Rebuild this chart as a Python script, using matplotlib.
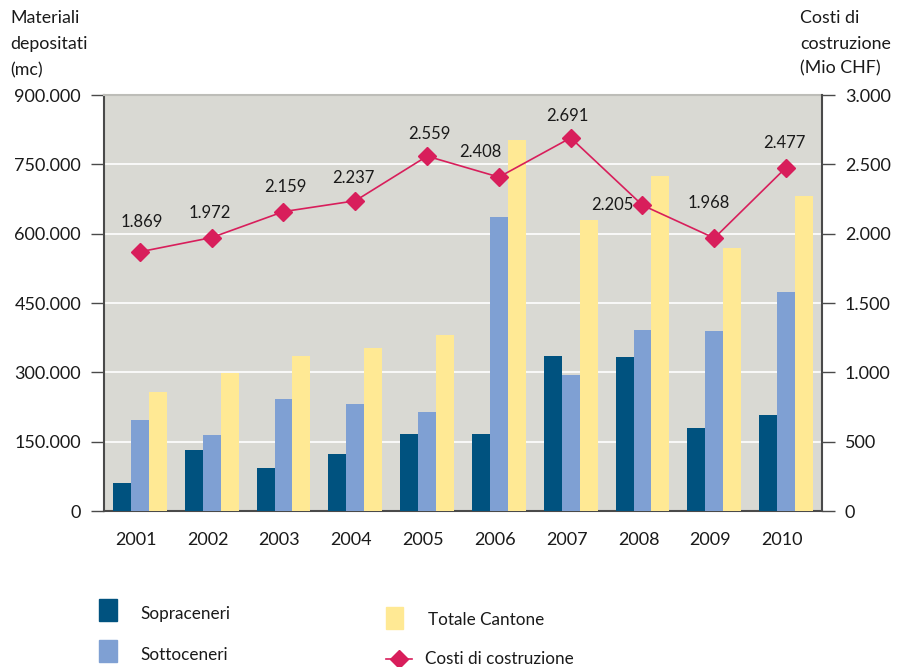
import matplotlib
matplotlib.use("Agg")
import matplotlib.pyplot as plt
import matplotlib.transforms as mtransforms
from matplotlib.patches import Rectangle
from matplotlib.lines import Line2D
import numpy as np

plt.rcParams['font.family'] = ['Lato', 'DejaVu Sans']

years = ["2001", "2002", "2003", "2004", "2005", "2006", "2007", "2008", "2009", "2010"]
sopraceneri = [60000, 132000, 94000, 123000, 167000, 167000, 336000, 333000, 179000, 208000]
sottoceneri = [197000, 165000, 242000, 231000, 214000, 637000, 294000, 392000, 389000, 474000]
totale = [257000, 298000, 336000, 353000, 381000, 803000, 630000, 724000, 569000, 681000]
costi = [1869, 1972, 2159, 2237, 2559, 2408, 2691, 2205, 1968, 2477]

left_ticks = [0, 150000, 300000, 450000, 600000, 750000, 900000]
left_labels = ["0", "150.000", "300.000", "450.000", "600.000", "750.000", "900.000"]
right_ticks = [0, 500, 1000, 1500, 2000, 2500, 3000]
right_labels = ["0", "500", "1.000", "1.500", "2.000", "2.500", "3.000"]

# label offsets in pixels (dx, dy) relative to marker
label_offsets = [(2, 30), (-2, 25), (2, 25), (-2, 23), (2, 22), (-19, 25), (-3, 22), (-30, 0), (-6, 35), (-2, 25)]

C_DARK = "#00527F"
C_LIGHT = "#7FA0D3"
C_YEL = "#FFE994"
C_LINE = "#D81E5B"
C_BG = "#D9D9D3"
C_SPINE = "#4A4A4A"
C_TXT = "#1A1A1A"

fig = plt.figure(figsize=(9.04, 6.67), dpi=100)
ax = fig.add_axes([104/904, 1-511/667, (822-104)/904, (511-95)/667])
ax.set_facecolor(C_BG)

x = np.arange(len(years))
w = 0.25
ax.bar(x - w, sopraceneri, w, color=C_DARK, zorder=3)
ax.bar(x, sottoceneri, w, color=C_LIGHT, zorder=3)
ax.bar(x + w, totale, w, color=C_YEL, zorder=3)

ax.set_xlim(-0.5, len(years) - 0.5)
ax.set_ylim(0, 900000)
ax.set_yticks(left_ticks)
ax.set_yticklabels(left_labels)
ax.yaxis.grid(True, color="white", lw=1.2, zorder=1)
ax.set_axisbelow(True)
ax.set_xticks(x)
ax.set_xticklabels(years)
ax.tick_params(axis='x', length=0, pad=15, labelsize=13, colors=C_TXT)
ax.tick_params(axis='y', length=9.5, width=1, pad=7, labelsize=13, colors=C_SPINE, labelcolor=C_TXT)
off = mtransforms.ScaledTranslation(-4/100, 0, fig.dpi_scale_trans)
for lab in ax.get_xticklabels():
    lab.set_transform(lab.get_transform() + off)

for s in ["left", "bottom"]:
    ax.spines[s].set_color(C_SPINE)
    ax.spines[s].set_linewidth(1.5)
ax.spines["top"].set_color("#BDBDB8")
ax.spines["top"].set_linewidth(1.5)
ax.spines["right"].set_visible(False)

ax2 = ax.twinx()
ax2.set_ylim(0, 3000)
ax2.set_yticks(right_ticks)
ax2.set_yticklabels(right_labels)
ax2.tick_params(axis='y', length=9.5, width=1, pad=7, labelsize=13, colors=C_SPINE, labelcolor=C_TXT)
for s in ["left", "top", "bottom"]:
    ax2.spines[s].set_visible(False)
ax2.spines["right"].set_color(C_SPINE)
ax2.spines["right"].set_linewidth(1.5)
ax2.plot(x, costi, color=C_LINE, lw=1.2, marker='D', markersize=9, zorder=5)

for xi, v, (dx, dy) in zip(x, costi, label_offsets):
    lbl = f"{v:,}".replace(",", ".")
    ax2.annotate(lbl, (xi, v), xytext=(dx * 0.72, dy * 0.72), textcoords="offset points",
                 ha="center", va="center", fontsize=12, color=C_TXT)

fig.text(10/904, 1-18/667, "Materiali", fontsize=12.8, color=C_TXT, va="center", ha="left")
fig.text(10/904, 1-44/667, "depositati", fontsize=12.8, color=C_TXT, va="center", ha="left")
fig.text(10/904, 1-70/667, "(mc)", fontsize=12.8, color=C_TXT, va="center", ha="left")
fig.text(800/904, 1-18/667, "Costi di", fontsize=12.8, color=C_TXT, va="center", ha="left")
fig.text(800/904, 1-44/667, "costruzione", fontsize=12.8, color=C_TXT, va="center", ha="left")
fig.text(800/904, 1-68/667, "(Mio CHF)", fontsize=12.8, color=C_TXT, va="center", ha="left")

# legend
def fx(px):
    return px / 904
def fy(py):
    return 1 - py / 667

fig.patches.append(Rectangle((fx(99), fy(621)), 18/904, 22/667, transform=fig.transFigure, color=C_DARK))
fig.patches.append(Rectangle((fx(99), fy(662)), 18/904, 22/667, transform=fig.transFigure, color=C_LIGHT))
fig.patches.append(Rectangle((fx(386), fy(629)), 17/904, 22/667, transform=fig.transFigure, color=C_YEL))
fig.lines.append(Line2D([fx(386), fx(412)], [fy(659), fy(659)], transform=fig.transFigure,
                        color=C_LINE, lw=1.2, marker=None))
fig.lines.append(Line2D([fx(399)], [fy(659)], transform=fig.transFigure,
                        color=C_LINE, marker='D', markersize=9, lw=0))
fig.text(fx(140), fy(614), "Sopraceneri", fontsize=12.3, color=C_TXT, va="center", ha="left")
fig.text(fx(140), fy(655), "Sottoceneri", fontsize=12.3, color=C_TXT, va="center", ha="left")
fig.text(fx(428), fy(620), "Totale Cantone", fontsize=12.3, color=C_TXT, va="center", ha="left")
fig.text(fx(425), fy(659), "Costi di costruzione", fontsize=12.3, color=C_TXT, va="center", ha="left")

fig.savefig("out.png", dpi=100)
